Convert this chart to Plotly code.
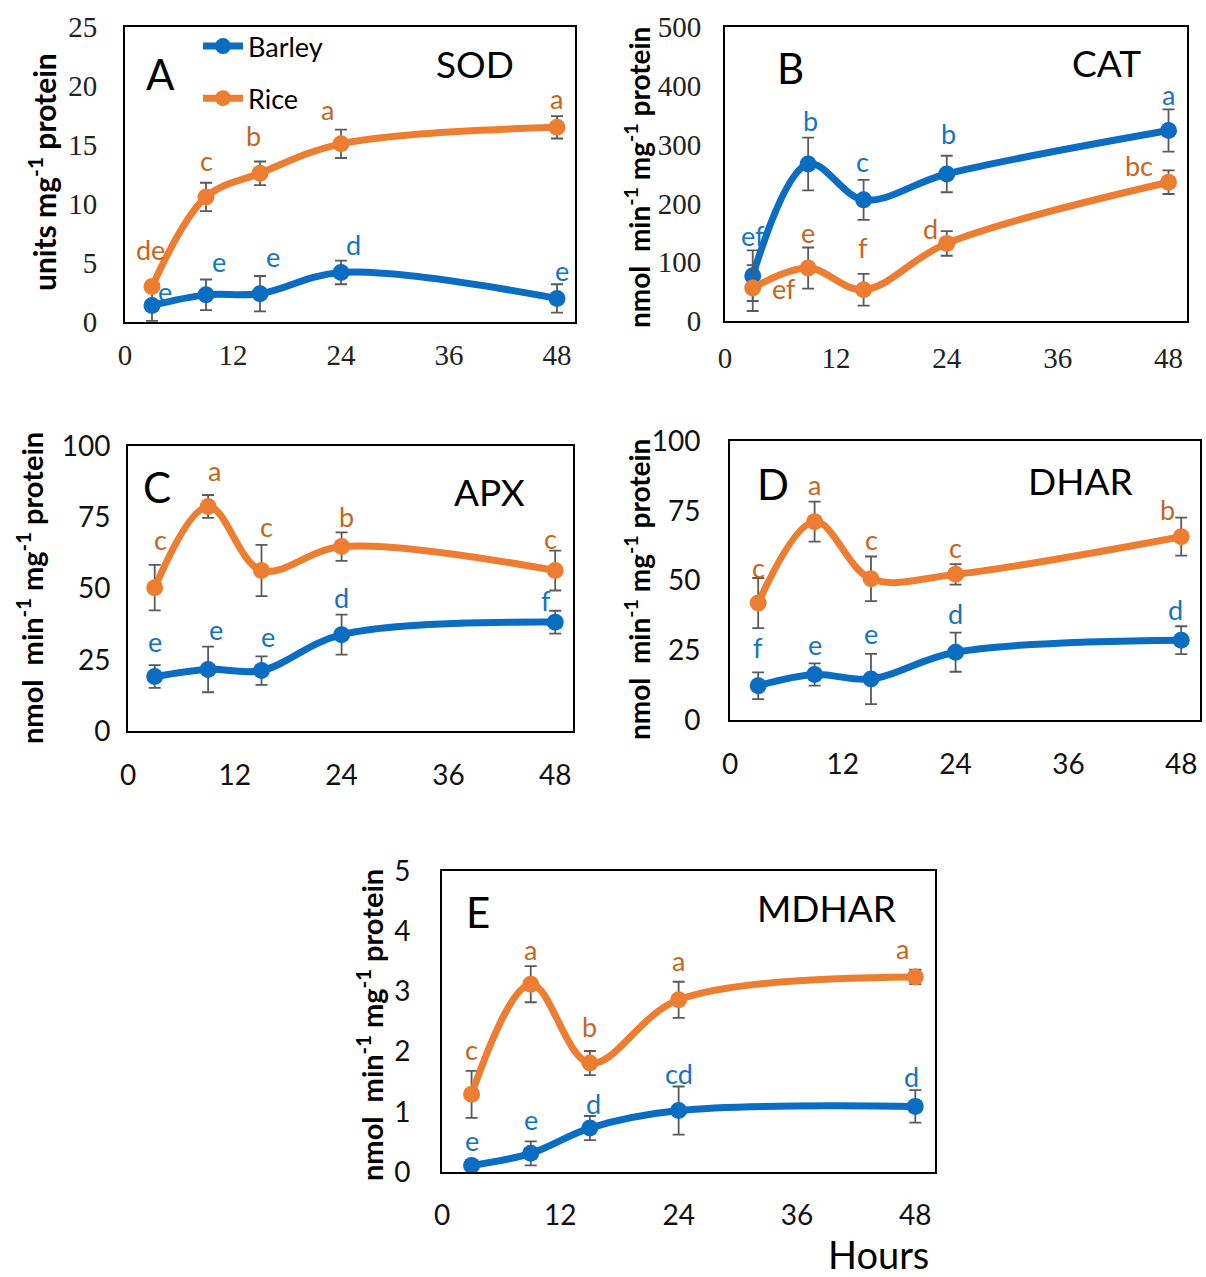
import plotly.graph_objects as go

W, H = 1206, 1277

hours = [3, 9, 15, 24, 48]
x_ticks = [0, 12, 24, 36, 48]

sod_barley = [1.4, 2.3, 2.4, 4.2, 2.0]
sod_barley_err = [1.3, 1.3, 1.5, 1.0, 1.2]
sod_rice = [3.0, 10.6, 12.6, 15.1, 16.5]
sod_rice_err = [0.3, 1.2, 1.0, 1.2, 0.95]
sod_barley_letters = ["e", "e", "e", "d", "e"]
sod_rice_letters = ["de", "c", "b", "a", "a"]

cat_barley = [77, 267, 206, 250, 324]
cat_barley_err = [43, 45, 34, 31, 36]
cat_rice = [56, 90, 53, 132, 236]
cat_rice_err = [39, 35, 27, 21, 20]
cat_barley_letters = ["ef", "b", "c", "b", "a"]
cat_rice_letters = ["ef", "e", "f", "d", "bc"]

apx_barley = [19.1, 21.6, 21.2, 33.8, 38.2]
apx_barley_err = [4, 8, 5, 7, 4]
apx_rice = [50.3, 78.8, 56.3, 64.7, 56.3]
apx_rice_err = [8, 4, 9, 5, 7]
apx_barley_letters = ["e", "e", "e", "d", "f"]
apx_rice_letters = ["c", "a", "c", "b", "c"]

dhar_barley = [12.3, 16.3, 14.7, 24.3, 28.6]
dhar_barley_err = [4.8, 4, 9, 7, 5]
dhar_rice = [41.9, 71.1, 50.6, 52.2, 65.7]
dhar_rice_err = [9, 7.2, 8, 3.7, 6.8]
dhar_barley_letters = ["f", "e", "e", "d", "d"]
dhar_rice_letters = ["c", "a", "c", "c", "b"]

mdhar_barley = [0.11, 0.31, 0.73, 1.02, 1.09]
mdhar_barley_err = [0.03, 0.2, 0.2, 0.4, 0.27]
mdhar_rice = [1.29, 3.12, 1.81, 2.86, 3.24]
mdhar_rice_err = [0.39, 0.3, 0.2, 0.3, 0.12]
mdhar_barley_letters = ["e", "e", "d", "cd", "d"]
mdhar_rice_letters = ["c", "a", "b", "a", "a"]

BLUE = "#0A6DC2"
ORANGE = "#ED7D31"
BLUE_TXT = "#1474C4"
ORANGE_TXT = "#C8651E"
ERR = "#5A5A5A"

SANS = "Lato"
SERIF = "Liberation Serif"

# panel boxes in pixels: (left, right, top, bottom)
panels = [
    dict(name="A", title="SOD", box=(125, 575, 27, 322), yr=[0, 25], dt=5,
         b=sod_barley, be=sod_barley_err, r=sod_rice, re=sod_rice_err,
         bl=sod_barley_letters, rl=sod_rice_letters,
         bshift=[(13, 14), (13, 33), (13, 37), (12, 28), (5, 28)],
         rshift=[(-2, 37), (0, 36), (-7, 38), (-14, 34), (-1, 29)],
         tickfont=dict(family=SERIF, size=29, color="#222"), xstand=6, ystand=20,
         ytitle="units mg<sup>-1</sup> protein", ytpos=(42, 172), ytsize=30,
         letter=(0.078, 0.84), tpos=(0.778, 0.875)),
    dict(name="B", title="CAT", box=(725, 1187, 27, 321), yr=[0, 500], dt=100,
         b=cat_barley, be=cat_barley_err, r=cat_rice, re=cat_rice_err,
         bl=cat_barley_letters, rl=cat_rice_letters,
         bshift=[(0, 40), (2, 44), (-1, 38), (2, 41), (0, 36)],
         rshift=[(31, 0), (0, 36), (-1, 42), (-16, 15), (-30, 17)],
         tickfont=dict(family=SERIF, size=29, color="#222"), xstand=10, ystand=16,
         ytitle="nmol  min<sup>-1</sup> mg<sup>-1</sup> protein", ytpos=(637, 178), ytsize=28,
         letter=(0.141, 0.86), tpos=(0.825, 0.878)),
    dict(name="C", title="APX", box=(128, 573, 446, 731), yr=[0, 100], dt=25,
         b=apx_barley, be=apx_barley_err, r=apx_rice, re=apx_rice_err,
         bl=apx_barley_letters, rl=apx_rice_letters,
         bshift=[(0, 35), (8, 40), (6, 34), (0, 37), (-9, 22)],
         rshift=[(6, 48), (6, 36), (5, 44), (5, 30), (-5, 32)],
         tickfont=dict(family=SANS, size=28, color="#111"), xstand=18, ystand=10,
         ytitle="nmol  min<sup>-1</sup> mg<sup>-1</sup> protein", ytpos=(30, 588), ytsize=29,
         letter=(0.065, 0.856), tpos=(0.813, 0.839)),
    dict(name="D", title="DHAR", box=(730, 1200, 441, 720), yr=[0, 100], dt=25,
         b=dhar_barley, be=dhar_barley_err, r=dhar_rice, re=dhar_rice_err,
         bl=dhar_barley_letters, rl=dhar_rice_letters,
         bshift=[(0, 38), (0, 30), (0, 45), (0, 39), (-6, 31)],
         rshift=[(0, 36), (0, 37), (0, 39), (0, 27), (-14, 27)],
         tickfont=dict(family=SANS, size=28, color="#111"), xstand=18, ystand=22,
         ytitle="nmol  min<sup>-1</sup> mg<sup>-1</sup> protein", ytpos=(638, 590), ytsize=28,
         letter=(0.091, 0.846), tpos=(0.745, 0.86)),
    dict(name="E", title="MDHAR", box=(442, 935, 871, 1172), yr=[0, 5], dt=1,
         b=mdhar_barley, be=mdhar_barley_err, r=mdhar_rice, re=mdhar_rice_err,
         bl=mdhar_barley_letters, rl=mdhar_rice_letters,
         bshift=[(0, 25), (0, 34), (4, 25), (0, 37), (-4, 30)],
         rshift=[(0, 45), (0, 35), (0, 37), (0, 39), (-13, 28)],
         tickfont=dict(family=SANS, size=28, color="#111"), xstand=17, ystand=24,
         ytitle="nmol  min<sup>-1</sup> mg<sup>-1</sup> protein", ytpos=(370, 1025), ytsize=29,
         letter=(0.073, 0.864), tpos=(0.779, 0.88)),
]

fig = go.Figure()
annotations = []

for i, p in enumerate(panels):
    n = i + 1
    xa = "x" if n == 1 else f"x{n}"
    ya = "y" if n == 1 else f"y{n}"
    xkey = "xaxis" if n == 1 else f"xaxis{n}"
    ykey = "yaxis" if n == 1 else f"yaxis{n}"
    l, r, t, b = p["box"]
    fig.update_layout({
        xkey: dict(domain=[l / W, r / W], anchor=ya, range=[0, 50], automargin=False,
                   tickvals=x_ticks, showgrid=False, zeroline=False,
                   showline=True, mirror=True, linecolor="black", linewidth=1.8,
                   ticks="outside", ticklen=0, tickcolor="rgba(0,0,0,0)",
                   ticklabelstandoff=p["xstand"], tickfont=p["tickfont"]),
        ykey: dict(domain=[1 - b / H, 1 - t / H], anchor=xa, range=p["yr"], automargin=False,
                   dtick=p["dt"], showgrid=False, zeroline=False,
                   showline=True, mirror=True, linecolor="black", linewidth=1.8,
                   ticks="outside", ticklen=0, tickcolor="rgba(0,0,0,0)",
                   ticklabelstandoff=p["ystand"], tickfont=p["tickfont"]),
    })
    for label, vals, errs, col, grp in [("Barley", p["b"], p["be"], BLUE, "barley"),
                                          ("Rice", p["r"], p["re"], ORANGE, "rice")]:
        fig.add_trace(go.Scatter(
            x=hours, y=vals, name=label, legendgroup=grp, showlegend=(n == 1),
            mode="lines+markers",
            line=dict(color=col, width=7, shape="spline", smoothing=1.0),
            marker=dict(color=col, size=17, symbol="circle"),
            error_y=dict(type="data", array=errs, color=ERR, thickness=1.8, width=6),
            xaxis=xa, yaxis=ya,
        ))
    for letters, vals, shifts, col in [(p["bl"], p["b"], p["bshift"], BLUE_TXT),
                                        (p["rl"], p["r"], p["rshift"], ORANGE_TXT)]:
        for hx, v, lt, (dx, dy) in zip(hours, vals, letters, shifts):
            annotations.append(dict(x=hx, y=v, xref=xa, yref=ya, text=lt,
                                    showarrow=False, xshift=dx, yshift=dy,
                                    xanchor="center", yanchor="middle",
                                    font=dict(family=SANS, size=27, color=col)))
    annotations.append(dict(x=p["letter"][0], y=p["letter"][1],
                            xref=f"{xa} domain", yref=f"{ya} domain",
                            text=p["name"], showarrow=False,
                            xanchor="center", yanchor="middle",
                            font=dict(family=SANS, size=42, color="black")))
    annotations.append(dict(x=p["tpos"][0], y=p["tpos"][1],
                            xref=f"{xa} domain", yref=f"{ya} domain",
                            text=p["title"], showarrow=False,
                            xanchor="center", yanchor="middle",
                            font=dict(family=SANS, size=37, color="black")))
    annotations.append(dict(x=p["ytpos"][0] / W, y=1 - p["ytpos"][1] / H,
                            xref="paper", yref="paper", text="<b>" + p["ytitle"] + "</b>",
                            textangle=-90, showarrow=False,
                            xanchor="center", yanchor="middle",
                            font=dict(family=SANS, size=p["ytsize"], color="black")))

annotations.append(dict(x=878 / W, y=1 - 1254 / H, xref="paper", yref="paper",
                        text="Hours", showarrow=False, xanchor="center", yanchor="middle",
                        font=dict(family=SANS, size=38, color="black")))

fig.update_layout(
    width=W, height=H,
    margin=dict(l=0, r=0, t=0, b=0, pad=0, autoexpand=False),
    paper_bgcolor="white", plot_bgcolor="white",
    annotations=annotations,
    showlegend=True,
    legend=dict(x=198 / W, y=1 - 22 / H, xanchor="left", yanchor="top",
                bgcolor="rgba(0,0,0,0)", font=dict(family=SANS, size=27, color="black"),
                tracegroupgap=14, itemwidth=40),
)

fig.write_html("out.html", config={"displayModeBar": False},
               post_script="document.body.style.margin='0';document.body.style.overflow='hidden';")
